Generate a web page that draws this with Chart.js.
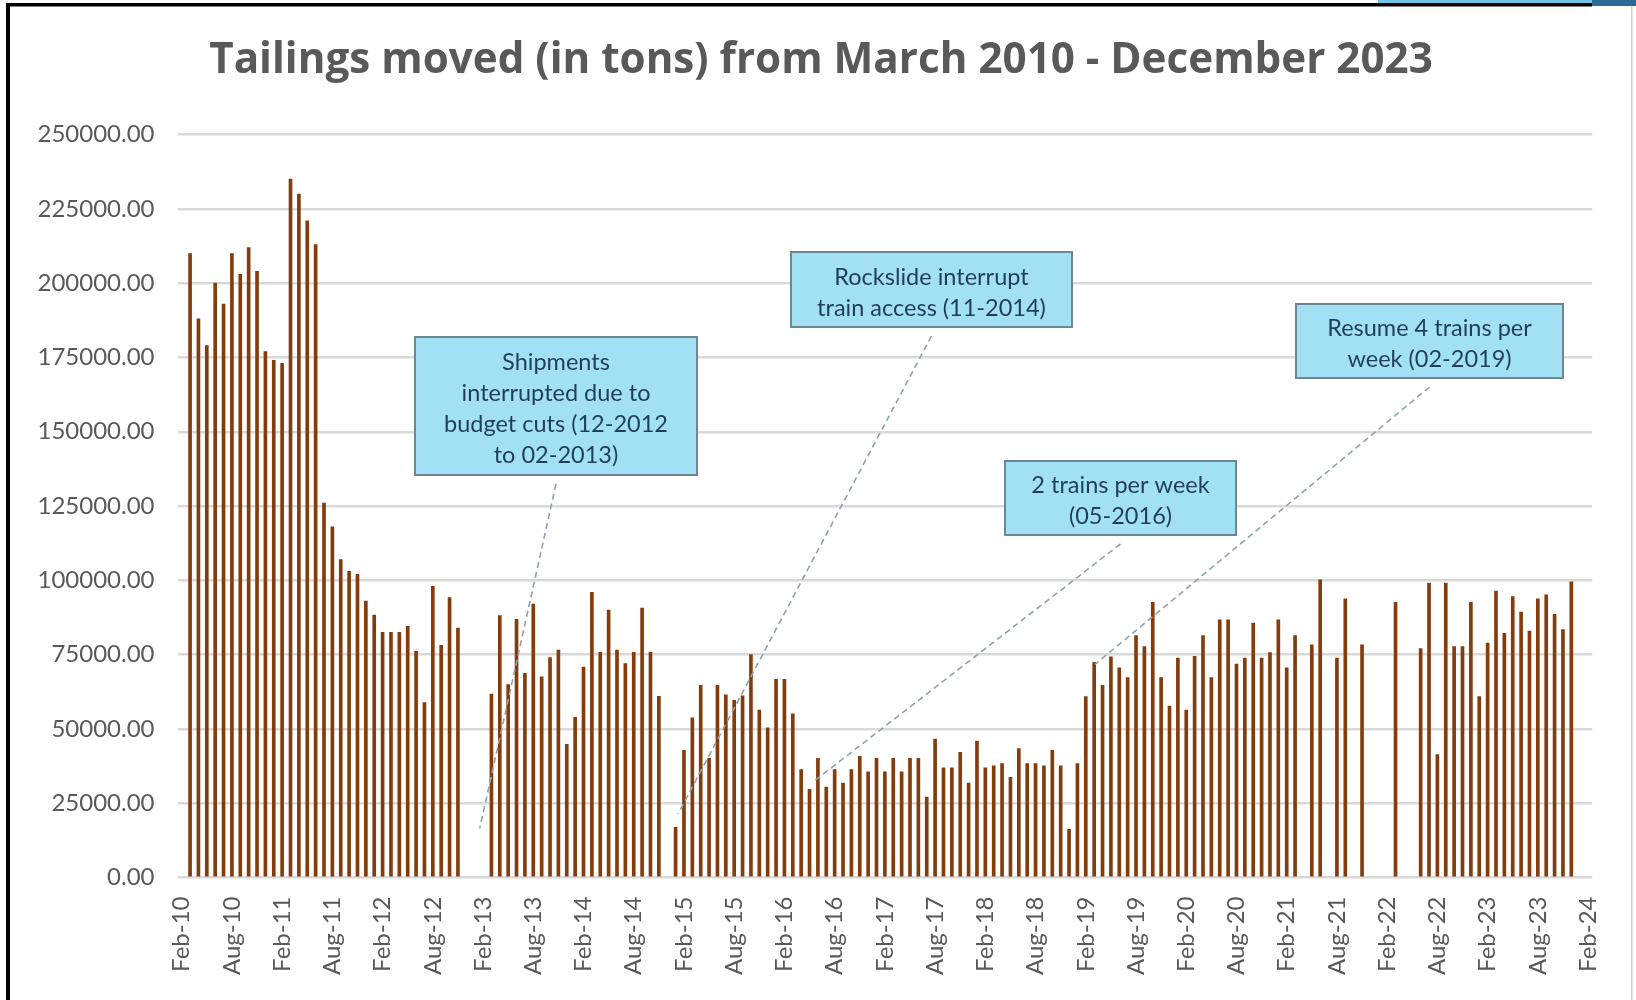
<!DOCTYPE html>
<html>
<head>
<meta charset="utf-8">
<script src="https://cdn.jsdelivr.net/npm/chart.js@4.4.1/dist/chart.umd.min.js"></script>
<style>
  html, body { margin: 0; padding: 0; background: #ffffff; }
  #wrap { position: relative; width: 1636px; height: 1000px; }
</style>
</head>
<body>
<div id="wrap"><canvas id="chart" width="1636" height="1000"></canvas></div>
<script>
// ---------------- DATA ----------------
const chartTitle = 'Tailings moved (in tons) from March 2010 - December 2023';

const monthAbbr = ['Jan','Feb','Mar','Apr','May','Jun','Jul','Aug','Sep','Oct','Nov','Dec'];

// monthly tons, one array per year (null = no shipment / no bar)
const tons2010 = [null, 210000, 188000, 179000, 200000, 193000, 210000, 203000, 212000, 204000, 177000]; // Feb..Dec
const tons2011 = [174000, 173000, 235000, 230000, 221000, 213000, 126000, 118000, 107000, 103000, 102000, 93000];
const tons2012 = [88300, 82500, 82500, 82500, 84500, 76100, 58900, 98000, 78100, 94200, 83900, null];
const tons2013 = [null, null, 61700, 88100, 64900, 86900, 68700, 92000, 67500, 74000, 76500, 44800];
const tons2014 = [53900, 70800, 96000, 75800, 90000, 76500, 72000, 75800, 90700, 75800, 61000, null];
const tons2015 = [16900, 42800, 53700, 64700, 40100, 64700, 61500, 59600, 61100, 75000, 56300, 50400];
const tons2016 = [66700, 66700, 55100, 36300, 29700, 40100, 30400, 36300, 31800, 36300, 40800, 35600];
const tons2017 = [40100, 35600, 40100, 35600, 40100, 40100, 27100, 46600, 36900, 36900, 42100, 31800];
const tons2018 = [45900, 36900, 37600, 38300, 33700, 43400, 38300, 38300, 37600, 42800, 37600, 16200];
const tons2019 = [38300, 60900, 72400, 64700, 74300, 70600, 67300, 81400, 77700, 92600, 67300, 57700];
const tons2020 = [73800, 56300, 74400, 81400, 67300, 86700, 86700, 71800, 73800, 85600, 73800, 75700];
const tons2021 = [86700, 70600, 81400, null, 78300, 100200, null, 73800, 93800, null, 78300, null];
const tons2022 = [null, null, 92600, null, null, 77000, 99100, 41400, 99100, 77700, 77700, 92600];
const tons2023 = [60900, 78900, 96400, 82200, 94500, 89300, 82900, 93800, 95100, 88600, 83400, 99500];
const tons2024 = [null, null]; // Jan..Feb (axis end)

const tonsMoved = [].concat(tons2010, tons2011, tons2012, tons2013, tons2014, tons2015, tons2016,
  tons2017, tons2018, tons2019, tons2020, tons2021, tons2022, tons2023, tons2024);

// category labels: Feb-10 .. Feb-24
const categories = [];
for (let y = 2010; y <= 2024; y++) {
  for (let m = 0; m < 12; m++) {
    if (y === 2010 && m < 1) continue;
    if (y === 2024 && m > 1) continue;
    categories.push(monthAbbr[m] + '-' + String(y).slice(2));
  }
}

const xTickLabels = ['Feb-10','Aug-10','Feb-11','Aug-11','Feb-12','Aug-12','Feb-13','Aug-13','Feb-14','Aug-14',
  'Feb-15','Aug-15','Feb-16','Aug-16','Feb-17','Aug-17','Feb-18','Aug-18','Feb-19','Aug-19',
  'Feb-20','Aug-20','Feb-21','Aug-21','Feb-22','Aug-22','Feb-23','Aug-23','Feb-24'];

const yMin = 0, yMax = 250000, yStep = 25000;

// callouts: text lines, tip anchored in data space (category index, value)
const calloutText = [
  ['Shipments', 'interrupted due to', 'budget cuts (12-2012', 'to 02-2013)'],
  ['Rockslide interrupt', 'train access (11-2014)'],
  ['2 trains per week', '(05-2016)'],
  ['Resume 4 trains per', 'week (02-2019)']
];
const calloutTipIndex = [35.6, 59.3, 75.3, 109.1];
const calloutTipValue = [16500, 21400, 31900, 71700];

// ---------------- LAYOUT / STYLE ----------------
const FONT = 'Lato, "Open Sans", "DejaVu Sans", sans-serif';
const TITLE_FONT = '"Open Sans", Lato, "DejaVu Sans", sans-serif';
const calloutBoxes = [ // [left, top, right, bottom] in canvas px
  [415, 337, 697, 475],
  [791, 252, 1072, 327],
  [1005, 461, 1236, 535],
  [1296, 304, 1563, 378]
];
const PLOT = { left: 177.5, right: 1594, top: 134.6, bottom: 877.5 };

const decorPlugin = {
  id: 'decor',
  beforeDraw(chart) {
    const ctx = chart.ctx;
    ctx.save();
    ctx.fillStyle = '#ffffff';
    ctx.fillRect(0, 0, chart.width, chart.height);
    // frame
    ctx.fillStyle = '#000000';
    ctx.fillRect(6, 3, 4, chart.height - 3);
    ctx.fillRect(6, 3, 1586, 3.5);
    ctx.fillStyle = '#6EC3E6';
    ctx.fillRect(1378, 0, 214, 3);
    ctx.fillStyle = '#2B6A96';
    ctx.fillRect(1592, 0, 44, 6);
    ctx.fillStyle = '#D0D0D0';
    ctx.fillRect(1631, 6, 1.5, chart.height - 6);
    // title
    ctx.fillStyle = '#595959';
    ctx.textAlign = 'center';
    ctx.textBaseline = 'alphabetic';
    ctx.font = 'bold 40px ' + TITLE_FONT;
    const w = ctx.measureText(chartTitle).width;
    const size = Math.min(46, 40 * 1224 / w);
    ctx.font = 'bold ' + size.toFixed(1) + 'px ' + TITLE_FONT;
    ctx.fillText(chartTitle, 821, 73);
    ctx.restore();
  },
  afterDatasetsDraw(chart) {
    const ctx = chart.ctx;
    const xs = chart.scales.x, ys = chart.scales.y;
    ctx.save();
    calloutText.forEach((lines, i) => {
      const [l, t, r, b] = calloutBoxes[i];
      const cx = (l + r) / 2;
      // leader line
      const tx = xs.getPixelForValue(calloutTipIndex[i]);
      const ty = ys.getPixelForValue(calloutTipValue[i]);
      ctx.strokeStyle = '#8FA3AD';
      ctx.lineWidth = 1.6;
      ctx.setLineDash([6, 4]);
      ctx.beginPath();
      ctx.moveTo(cx, b + 9);
      ctx.lineTo(tx, ty);
      ctx.stroke();
      ctx.setLineDash([]);
      // box
      ctx.fillStyle = '#A2E0F4';
      ctx.fillRect(l, t, r - l, b - t);
      ctx.strokeStyle = '#6F8791';
      ctx.lineWidth = 2;
      ctx.strokeRect(l, t, r - l, b - t);
      // text
      ctx.fillStyle = '#1F3D5C';
      ctx.font = '23.5px ' + FONT;
      ctx.textAlign = 'center';
      ctx.textBaseline = 'middle';
      const lh = 31;
      const cy = (t + b) / 2 + 3;
      lines.forEach((s, k) => {
        ctx.fillText(s, cx, cy + (k - (lines.length - 1) / 2) * lh);
      });
    });
    ctx.restore();
  }
};

new Chart(document.getElementById('chart'), {
  type: 'bar',
  data: {
    labels: categories,
    datasets: [{
      label: 'Tailings moved (tons)',
      data: tonsMoved,
      backgroundColor: '#843C0C',
      borderWidth: 0,
      barThickness: 3
    }]
  },
  options: {
    responsive: false,
    animation: false,
    devicePixelRatio: 1,
    layout: { padding: { left: 0, right: 1636 - PLOT.right, top: PLOT.top, bottom: 0 } },
    plugins: {
      legend: { display: false },
      title: { display: false },
      tooltip: { enabled: false }
    },
    scales: {
      x: {
        type: 'category',
        offset: true,
        grid: { display: false, drawTicks: false },
        border: { display: false },
        ticks: {
          autoSkip: false,
          minRotation: 90,
          maxRotation: 90,
          padding: 19,
          color: '#595959',
          font: { family: FONT, size: 24 },
          callback: function (value) {
            const lab = this.getLabelForValue(value);
            return xTickLabels.includes(lab) ? lab : '';
          }
        },
        afterFit(scale) { scale.height = 1000 - PLOT.bottom; }
      },
      y: {
        min: yMin,
        max: yMax,
        grid: { color: '#D9D9D9', lineWidth: 2.5, drawTicks: false },
        border: { display: false },
        ticks: {
          stepSize: yStep,
          padding: 23,
          color: '#595959',
          font: { family: FONT, size: 24 },
          callback: (v) => Number(v).toFixed(2)
        },
        afterFit(scale) { scale.width = PLOT.left; }
      }
    }
  },
  plugins: [decorPlugin]
});
</script>
</body>
</html>
